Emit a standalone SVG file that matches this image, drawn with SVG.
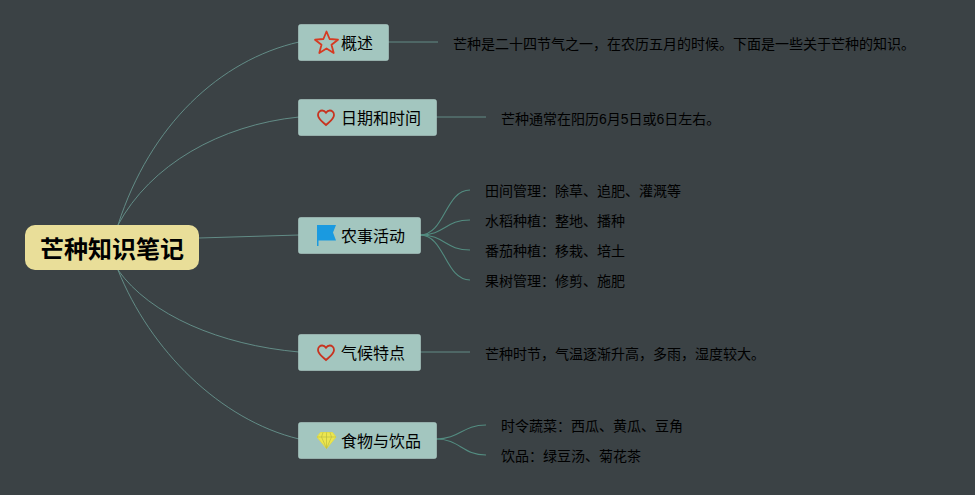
<svg xmlns="http://www.w3.org/2000/svg" width="975" height="495" viewBox="0 0 975 495">
<style>
text{font-family:"Liberation Sans","Noto Sans CJK SC",sans-serif;fill:#000;dominant-baseline:alphabetic}
.t{font-size:16px}
.l{font-size:14px}
.b{fill:#a3c6bf;stroke:#aecdc7;stroke-width:.6}
.c{fill:none;stroke:#66948d;stroke-width:.9}
.d{fill:none;stroke:#538c80;stroke-width:1.1}
.h{fill:none;stroke:#c8331f;stroke-width:1.8}
</style>
<defs>
<path id="heart" d="M0 7.500C-4 4-8 1.500-8-2.500C-8-5.500-5.800-7-3.800-7C-2-7-.8-6 0-4.800C.8-6 2-7 3.800-7C5.800-7 8-5.500 8-2.500C8 1.500 4 4 0 7.500Z"/>
</defs>
<rect width="975" height="495" fill="#3b4245"/>
<g id="connectors">
<path class="c" d="M118 225C150 125 220 60 299 42"/>
<path class="c" d="M118 225C150 165 220 125 299 117"/>
<path class="c" d="M199 238L299 235"/>
<path class="c" d="M118 270C150 315 220 345 299 352"/>
<path class="c" d="M118 270C150 350 220 420 299 439"/>
<path class="c" d="M388 42H438"/>
<path class="c" d="M436 117H486"/>
<path class="c" d="M420 352H470"/>
<path class="d" d="M420 235C445 235 445 190 470 190"/>
<path class="d" d="M420 235C445 235 445 220 470 220"/>
<path class="d" d="M420 235C445 235 445 250 470 250"/>
<path class="d" d="M420 235C445 235 445 280 470 280"/>
<path class="d" d="M436 439C460 439 462 425 486 425"/>
<path class="d" d="M436 439C460 439 462 455 486 455"/>
</g>
<g id="root">
<rect x="25" y="225" width="174" height="45" rx="10" fill="#e9de99"/>
<text x="112" y="257.500" text-anchor="middle" style="font-size:24px;font-weight:700">芒种知识笔记</text>
</g>
<g id="n1">
<rect class="b" x="298.500" y="24.500" width="90" height="36" rx="2"/>
<path d="M326.500 31.500L329.600 39L338 39.700L331.500 44.800L333.700 53L326.500 48.500L319.300 53L321.500 44.800L315 39.700L323.400 39Z" fill="none" stroke="#d63a22" stroke-width="1.8" stroke-linejoin="round"/>
<text class="t" x="341" y="49">概述</text>
</g>
<g id="n2">
<rect class="b" x="298.500" y="99.500" width="138" height="36" rx="2"/>
<use href="#heart" class="h" x="326" y="117.500"/>
<text class="t" x="341" y="124">日期和时间</text>
</g>
<g id="n3">
<rect class="b" x="298.500" y="217.500" width="122" height="36" rx="2"/>
<path d="M317 225H336L333 232.500L336 240.500H318.500V246H317Z" fill="#1a9ae0"/>
<text class="t" x="341" y="242">农事活动</text>
</g>
<g id="n4">
<rect class="b" x="298.500" y="334.500" width="122" height="36" rx="2"/>
<use href="#heart" class="h" x="326" y="352.500"/>
<text class="t" x="341" y="359">气候特点</text>
</g>
<g id="n5">
<rect class="b" x="298.500" y="422.500" width="138" height="36" rx="2"/>
<path d="M320.500 432.500H332.500L336 437L326.500 448.500L317 437Z" fill="#ece650" stroke="#e2dd48" stroke-width="1"/>
<path d="M317 437H336M323 432.500L321.500 437L326.500 448.500L331.500 437L330 432.500M326.500 432.500V448" fill="none" stroke="#bcbc40" stroke-width=".7"/>
<text class="t" x="341" y="447">食物与饮品</text>
</g>
<g id="l1"><text class="l" x="453" y="49">芒种是二十四节气之一，在农历五月的时候。下面是一些关于芒种的知识。</text></g>
<g id="l2"><text class="l" x="501" y="124">芒种通常在阳历6月5日或6日左右。</text></g>
<g id="l3"><text class="l" x="485" y="196">田间管理：除草、追肥、灌溉等</text></g>
<g id="l4"><text class="l" x="485" y="226">水稻种植：整地、播种</text></g>
<g id="l5"><text class="l" x="485" y="256">番茄种植：移栽、培土</text></g>
<g id="l6"><text class="l" x="485" y="286">果树管理：修剪、施肥</text></g>
<g id="l7"><text class="l" x="485" y="359">芒种时节，气温逐渐升高，多雨，湿度较大。</text></g>
<g id="l8"><text class="l" x="501" y="431">时令蔬菜：西瓜、黄瓜、豆角</text></g>
<g id="l9"><text class="l" x="501" y="461">饮品：绿豆汤、菊花茶</text></g>
</svg>
